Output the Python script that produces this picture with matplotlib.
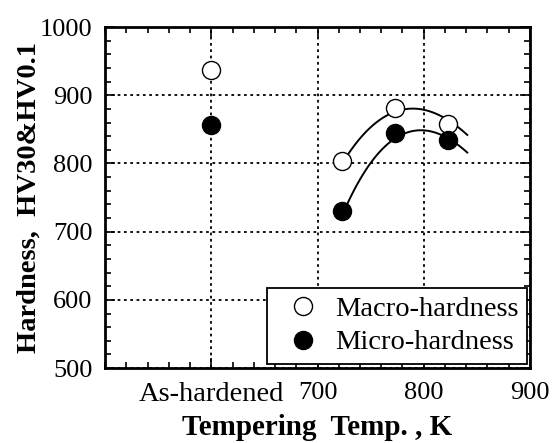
import matplotlib
matplotlib.use("Agg")
import matplotlib.pyplot as plt
from matplotlib.ticker import MultipleLocator
import numpy as np

plt.rcParams['font.family'] = ['Liberation Serif', 'DejaVu Serif']

# as-hardened state is drawn at x=600
as_hardened_x = 600
temps = [723, 773, 823]
macro_as = 937
micro_as = 856
macro = [804, 882, 858]
micro = [731, 845, 834]

# trend curves, points
macro_curve_x = [728, 743, 759, 773, 784, 799, 815, 830, 841]
macro_curve_y = [813, 840, 862, 879, 881, 879, 869, 855, 843]
micro_curve_x = [725, 738, 750, 764, 773, 790, 806, 823, 841]
micro_curve_y = [735, 765, 794, 831, 843, 847, 845, 834, 818]

xtick_pos = [600, 700, 800, 900]
xtick_labels = ['As-hardened', '700', '800', '900']

fig = plt.figure(figsize=(5.59, 4.43), dpi=100)
ax = fig.add_axes([0.188, 0.169, 0.760, 0.770])

# smooth fitted lines through the traced points
for cx, cy in [(macro_curve_x, macro_curve_y), (micro_curve_x, micro_curve_y)]:
    p = np.polyfit(cx, cy, 3)
    xs = np.linspace(cx[0], cx[-1], 100)
    ax.plot(xs, np.polyval(p, xs), color='black', lw=1.4, zorder=3)

ax.plot([as_hardened_x] + temps, [macro_as] + macro, 'o', ls='none', ms=13,
        mfc='white', mec='black', mew=1.0, zorder=4, label='Macro-hardness')
ax.plot([as_hardened_x] + temps, [micro_as] + micro, 'o', ls='none', ms=13,
        mfc='black', mec='black', mew=1.0, zorder=4, label='Micro-hardness')

ax.set_xlim(500, 900)
ax.set_ylim(500, 1000)
ax.set_xticks(xtick_pos)
ax.set_xticklabels(xtick_labels)
ax.xaxis.set_minor_locator(MultipleLocator(20))
ax.yaxis.set_major_locator(MultipleLocator(100))
ax.yaxis.set_minor_locator(MultipleLocator(20))

ax.tick_params(which='both', direction='in', top=True, right=True, width=1.2)
ax.tick_params(axis='x', labelsize=19, pad=10)
ax.tick_params(axis='y', labelsize=19, pad=9)
ax.get_xticklabels()[0].set_fontsize(20.5)
ax.tick_params(which='major', length=7)
ax.tick_params(which='minor', length=4)

ax.grid(True, which='major', ls=(0, (1.5, 2)), color='black', lw=1.3, zorder=1)
for s in ax.spines.values():
    s.set_linewidth(2)

ax.set_xlabel('Tempering  Temp. , K', fontsize=21, fontweight='bold', labelpad=5)
ax.set_ylabel('Hardness,  HV30&HV0.1', fontsize=20.5, fontweight='bold', labelpad=-1)

leg = ax.legend(loc='lower right', bbox_to_anchor=(0.993, 0.012), fontsize=20.5,
                frameon=True, fancybox=False, framealpha=1, edgecolor='black',
                handlelength=1.9, handletextpad=0.18, borderpad=0.3,
                labelspacing=0.25, borderaxespad=0)
leg.get_frame().set_linewidth(1.3)
leg.set_zorder(5)

fig.savefig('out.png', dpi=100)
